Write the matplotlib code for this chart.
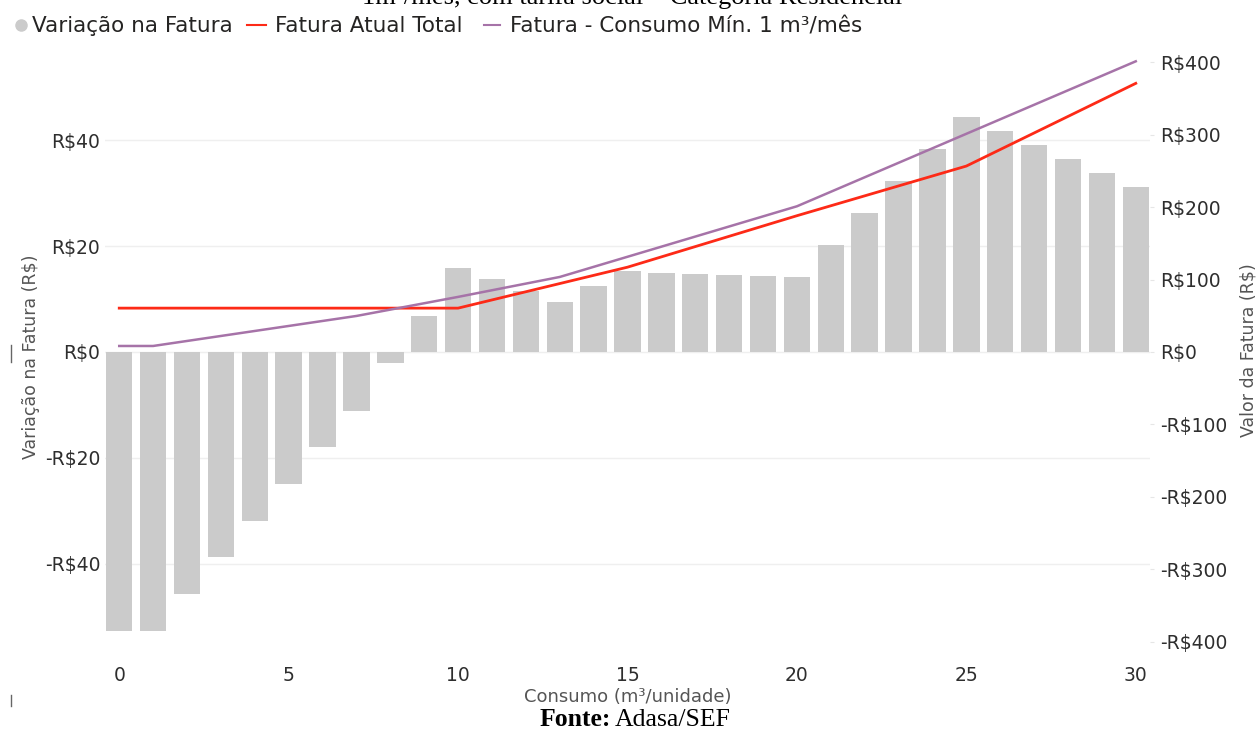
import matplotlib
matplotlib.use("Agg")
import matplotlib.pyplot as plt
from matplotlib.lines import Line2D
import numpy as np

# ---- data ----
consumo = list(range(0, 31))
variacao = [-52.6, -52.6, -45.6, -38.7, -31.9, -25.0, -18.0, -11.1, -2.1, 6.7,
            15.8, 13.7, 11.5, 9.4, 12.4, 15.2, 14.9, 14.7, 14.6, 14.3,
            14.1, 20.2, 26.3, 32.3, 38.4, 44.4, 41.8, 39.1, 36.5, 33.8, 31.1]

atual_x = [0, 10, 15, 20, 25, 30]
atual_y = [60.5, 60.5, 117, 188, 256.5, 370.6]

minimo_x = [0, 1, 7, 10, 13, 20, 25, 30]
minimo_y = [8.3, 8.3, 49.7, 76.0, 103.5, 201.0, 301.0, 401.0]

left_ticks = [-40, -20, 0, 20, 40]
right_ticks = [-400, -300, -200, -100, 0, 100, 200, 300, 400]
x_ticks = [0, 5, 10, 15, 20, 25, 30]

legend_labels = ["Variação na Fatura", "Fatura Atual Total", "Fatura - Consumo Mín. 1 m³/mês"]

# ---- style ----
BAR = "#CBCBCB"
RED = "#FD2A17"
PURPLE = "#A673A8"
TXT = "#2E2E2E"
AXT = "#555555"
FONT = "DejaVu Sans"
SERIF = "Liberation Serif"

W, H = 1258, 731
fig = plt.figure(figsize=(W / 100, H / 100), dpi=100)
fig.patch.set_facecolor("white")


def fx(px):
    return px / W


def fy(py):
    return 1 - py / H


x0, x1, y0, y1 = 105, 1150, 50, 655
ax = fig.add_axes([fx(x0), fy(y1), (x1 - x0) / W, (y1 - y0) / H])
ax2 = ax.twinx()

ax.bar(consumo, variacao, width=0.78, color=BAR, zorder=2)
ax2.plot(atual_x, atual_y, color=RED, lw=2.0, zorder=3)
ax2.plot(minimo_x, minimo_y, color=PURPLE, lw=1.8, zorder=3)

ax.set_xlim(-0.42, 30.42)
ax.set_ylim(-57.2, 57.0)
ax2.set_ylim(-418, 416.6)


def money(v):
    return ("-R$%d" % abs(v)) if v < 0 else "R$%d" % v


ax.set_yticks(left_ticks)
ax.set_yticklabels([money(v) for v in left_ticks])
ax2.set_yticks(right_ticks)
ax2.set_yticklabels([money(v) for v in right_ticks])
ax.set_xticks(x_ticks)
ax.set_xticklabels([str(v) for v in x_ticks])

ax.grid(axis="y", color="#EFEFEF", lw=1.0, zorder=0)
ax.set_axisbelow(True)
for a in (ax, ax2):
    for s in a.spines.values():
        s.set_visible(False)
ax.tick_params(axis="y", length=0, pad=3.5, labelsize=13.5, labelcolor=TXT)
ax.tick_params(axis="x", length=0, pad=8, labelsize=13.5, labelcolor=TXT)
ax2.tick_params(axis="y", length=3, color="#E6E6E6", pad=4, labelsize=13.5, labelcolor=TXT)
for lab in ax.get_xticklabels() + ax.get_yticklabels() + ax2.get_yticklabels():
    lab.set_fontfamily(FONT)

fig.text(fx(31), fy(357), "Variação na Fatura (R$)", rotation=90, ha="center", va="center",
         fontsize=12.5, color=AXT, family=FONT)
fig.text(fx(1249), fy(350), "Valor da Fatura (R$)", rotation=90, ha="center", va="center",
         fontsize=12.5, color=AXT, family=FONT)
fig.text(fx(628), fy(697), "Consumo (m³/unidade)", ha="center", va="center",
         fontsize=13, color=AXT, family=FONT)

# legend (manual placement)
LY = 25
fig.add_artist(Line2D([fx(21)], [fy(LY)], marker="o", color="none", markerfacecolor=BAR,
                      markeredgecolor=BAR, markersize=8))
fig.add_artist(Line2D([fx(247), fx(266)], [fy(LY), fy(LY)], color=RED, lw=1.5))
fig.add_artist(Line2D([fx(484), fx(500)], [fy(LY), fy(LY)], color=PURPLE, lw=1.5))
for xs, lab in zip([32, 275, 510], legend_labels):
    fig.text(fx(xs), fy(LY + 1), lab, ha="left", va="center", fontsize=15.5,
             family=FONT, color="#252423")

# cropped title and source
fig.text(fx(632), fy(4), "1m³/mês, com tarifa social – Categoria Residencial", ha="center",
         va="baseline", fontsize=19, family=SERIF, color="black")
fig.text(fx(611), fy(726), "Fonte:", ha="right", va="baseline", fontsize=18.5,
         family=SERIF, fontweight="bold", color="black")
fig.text(fx(615), fy(726), "Adasa/SEF", ha="left", va="baseline", fontsize=18.5,
         family=SERIF, color="black")

# small edge marks
fig.add_artist(Line2D([fx(11), fx(11)], [fy(345), fy(362)], color="#666666", lw=1))
fig.add_artist(Line2D([fx(11), fx(11)], [fy(695), fy(706)], color="#666666", lw=1))

fig.savefig("out.png", dpi=100, facecolor="white")
